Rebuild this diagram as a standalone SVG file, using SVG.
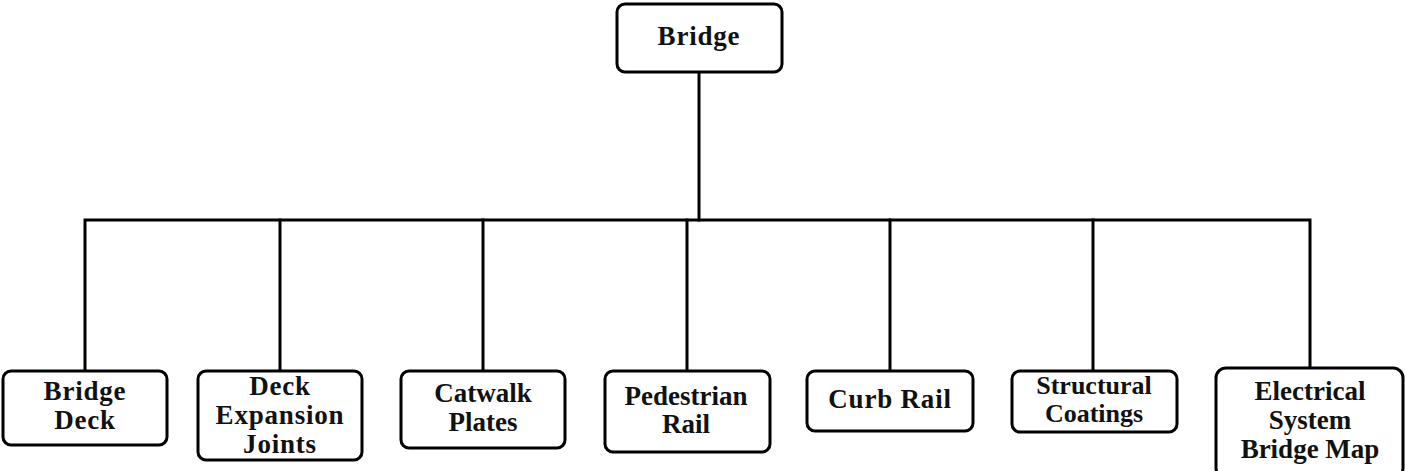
<svg xmlns="http://www.w3.org/2000/svg" width="1405" height="471" viewBox="0 0 1405 471">
  <style>
    .box { fill: #ffffff; stroke: #000000; stroke-width: 3; }
    .link { fill: none; stroke: #000000; stroke-width: 3; stroke-linecap: square; }
    .lbl { font-family: "Liberation Serif", "Times New Roman", serif; font-weight: bold; font-size: 27px; fill: #111111; text-anchor: middle; }
    .gar { letter-spacing: 0.8px; }
    .sm { font-size: 26px; }
  </style>
  <rect width="1405" height="471" fill="#ffffff"/>

  <!-- tree connectors -->
  <g id="connectors">
    <path class="link" d="M699,73 V220"/>
    <path class="link" d="M85,371 V220 H1310 V368"/>
    <path class="link" d="M280,220 V371"/>
    <path class="link" d="M483,220 V371"/>
    <path class="link" d="M687,220 V371"/>
    <path class="link" d="M890,220 V371"/>
    <path class="link" d="M1093,220 V371"/>
  </g>

  <g id="node-bridge">
    <rect class="box" x="617" y="4" width="165" height="68" rx="8"/>
    <text class="lbl gar" x="699" y="45">Bridge</text>
  </g>

  <g id="node-bridge-deck">
    <rect class="box" x="3" y="371" width="164" height="74" rx="8"/>
    <text class="lbl gar" x="85" y="400">Bridge</text>
    <text class="lbl gar" x="85" y="429">Deck</text>
  </g>

  <g id="node-deck-expansion-joints">
    <rect class="box" x="198" y="371" width="164" height="89" rx="8"/>
    <text class="lbl gar" x="280" y="395">Deck</text>
    <text class="lbl gar" x="280" y="424">Expansion</text>
    <text class="lbl gar" x="280" y="453">Joints</text>
  </g>

  <g id="node-catwalk-plates">
    <rect class="box" x="401" y="371" width="164" height="77" rx="8"/>
    <text class="lbl" x="483" y="402">Catwalk</text>
    <text class="lbl" x="483" y="431">Plates</text>
  </g>

  <g id="node-pedestrian-rail">
    <rect class="box" x="605" y="371" width="165" height="81" rx="8"/>
    <text class="lbl" x="686" y="405">Pedestrian</text>
    <text class="lbl" x="686" y="433">Rail</text>
  </g>

  <g id="node-curb-rail">
    <rect class="box" x="807" y="371" width="166" height="60" rx="8"/>
    <text class="lbl gar" x="890" y="408">Curb Rail</text>
  </g>

  <g id="node-structural-coatings">
    <rect class="box" x="1012" y="371" width="165" height="61" rx="8"/>
    <text class="lbl sm" x="1094" y="394">Structural</text>
    <text class="lbl sm" x="1094" y="422">Coatings</text>
  </g>

  <g id="node-electrical-system">
    <rect class="box" x="1216" y="368" width="187" height="110" rx="10"/>
    <text class="lbl" x="1310" y="400">Electrical</text>
    <text class="lbl" x="1310" y="429">System</text>
    <text class="lbl" x="1310" y="458">Bridge Map</text>
  </g>
</svg>
